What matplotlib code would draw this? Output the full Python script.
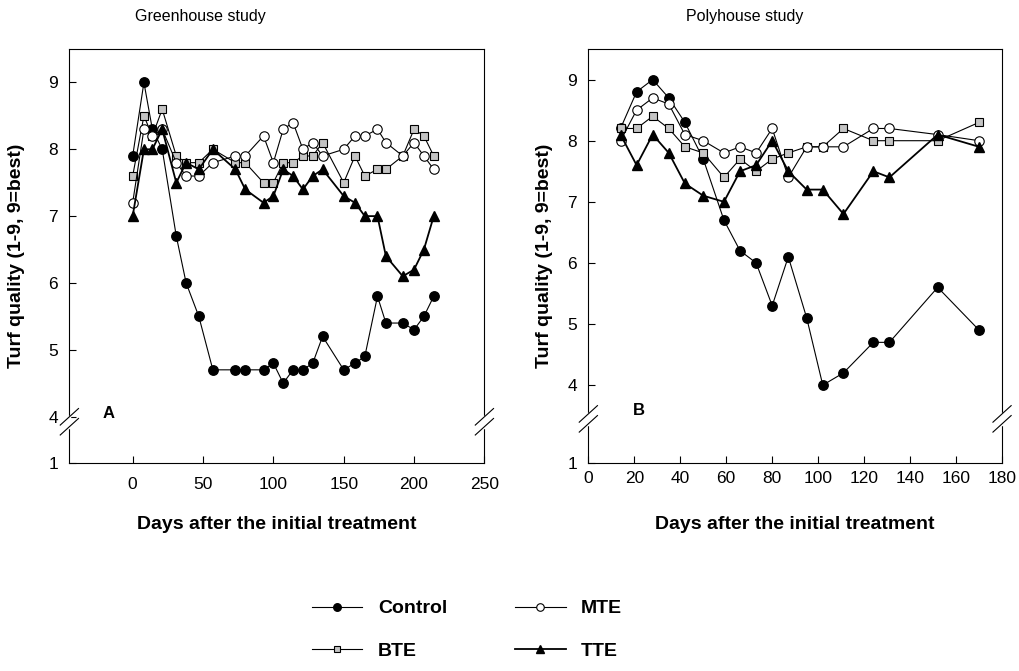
import matplotlib
matplotlib.use('Agg')
import matplotlib.pyplot as plt

plt.rcParams['font.family'] = ['Liberation Sans', 'DejaVu Sans']

# Greenhouse study (panel A)
days_a = [0, 8, 14, 21, 31, 38, 47, 57, 73, 80, 93, 100, 107, 114, 121, 128, 135,
          150, 158, 165, 174, 180, 192, 200, 207, 214]
control_a = [7.9, 9.0, 8.3, 8.0, 6.7, 6.0, 5.5, 4.7, 4.7, 4.7, 4.7, 4.8, 4.5, 4.7, 4.7, 4.8, 5.2,
             4.7, 4.8, 4.9, 5.8, 5.4, 5.4, 5.3, 5.5, 5.8]
mte_a = [7.2, 8.3, 8.2, 8.3, 7.8, 7.6, 7.6, 7.8, 7.9, 7.9, 8.2, 7.8, 8.3, 8.4, 8.0, 8.1, 7.9,
         8.0, 8.2, 8.2, 8.3, 8.1, 7.9, 8.1, 7.9, 7.7]
bte_a = [7.6, 8.5, 8.2, 8.6, 7.9, 7.8, 7.8, 8.0, 7.8, 7.8, 7.5, 7.5, 7.8, 7.8, 7.9, 7.9, 8.1,
         7.5, 7.9, 7.6, 7.7, 7.7, 7.9, 8.3, 8.2, 7.9]
tte_a = [7.0, 8.0, 8.0, 8.3, 7.5, 7.8, 7.7, 8.0, 7.7, 7.4, 7.2, 7.3, 7.7, 7.6, 7.4, 7.6, 7.7,
         7.3, 7.2, 7.0, 7.0, 6.4, 6.1, 6.2, 6.5, 7.0]

# Polyhouse study (panel B)
days_b = [14, 21, 28, 35, 42, 50, 59, 66, 73, 80, 87, 95, 102, 111, 124, 131, 152, 170]
control_b = [8.2, 8.8, 9.0, 8.7, 8.3, 7.7, 6.7, 6.2, 6.0, 5.3, 6.1, 5.1, 4.0, 4.2, 4.7, 4.7, 5.6, 4.9]
mte_b = [8.0, 8.5, 8.7, 8.6, 8.1, 8.0, 7.8, 7.9, 7.8, 8.2, 7.4, 7.9, 7.9, 7.9, 8.2, 8.2, 8.1, 8.0]
bte_b = [8.2, 8.2, 8.4, 8.2, 7.9, 7.8, 7.4, 7.7, 7.5, 7.7, 7.8, 7.9, 7.9, 8.2, 8.0, 8.0, 8.0, 8.3]
tte_b = [8.1, 7.6, 8.1, 7.8, 7.3, 7.1, 7.0, 7.5, 7.6, 8.0, 7.5, 7.2, 7.2, 6.8, 7.5, 7.4, 8.1, 7.9]

y_ticks = [4, 5, 6, 7, 8, 9]


def draw_break(ax, yfrac):
    # little "//" marks on both spines where the axis is broken
    for x0 in (0, 1):
        ax.plot([x0, x0], [yfrac - 0.012, yfrac + 0.012], color='white', lw=2.5,
                transform=ax.transAxes, clip_on=False, zorder=5)
        for dy in (-0.012, 0.012):
            ax.plot([x0 - 0.022, x0 + 0.022], [yfrac + dy - 0.02, yfrac + dy + 0.02],
                    color='black', lw=0.8, transform=ax.transAxes, clip_on=False, zorder=6)


def plot_panel(ax, days, control, mte, bte, tte, ylow, xpad, ylab_x, ybreak):
    ax.plot(days, control, '-o', color='black', lw=0.8, ms=6.8, mfc='black', mec='black', label='Control')
    ax.plot(days, bte, '-s', color='black', lw=0.8, ms=6.2, mfc='#c4c4c4', mec='black', mew=0.8, label='BTE')
    ax.plot(days, mte, '-o', color='black', lw=0.8, ms=6.8, mfc='white', mec='black', mew=0.8, label='MTE')
    ax.plot(days, tte, '-^', color='black', lw=1.3, ms=6.8, mfc='black', mec='black', label='TTE')
    ax.set_ylim(ylow, 9.5)
    ax.set_yticks([ylow] + y_ticks)
    ax.set_yticklabels(['1'] + [str(t) for t in y_ticks])
    ax.tick_params(direction='in', labelsize=12.5, length=5, width=0.8)
    ax.tick_params(axis='y', pad=8)
    ax.tick_params(axis='x', pad=xpad)
    for sp in ax.spines.values():
        sp.set_linewidth(0.8)
    ax.set_ylabel('Turf quality (1-9, 9=best)', fontsize=14, fontweight='bold')
    ax.yaxis.set_label_coords(ylab_x, 0.5)
    ax.set_xlabel('Days after the initial treatment', fontsize=14, fontweight='bold')
    ax.xaxis.set_label_coords(0.5, -0.13)
    draw_break(ax, ybreak)


fig = plt.figure(figsize=(10.2, 6.71), dpi=100)
ax_a = fig.add_axes([0.068, 0.3104, 0.4069, 0.6165])
ax_b = fig.add_axes([0.5768, 0.3104, 0.4056, 0.6165])

plot_panel(ax_a, days_a, control_a, mte_a, bte_a, tte_a, 3.31, 10, -0.107, 0.099)
ax_a.set_xlim(-45, 250)
ax_a.set_xticks([0, 50, 100, 150, 200, 250])
ax_a.text(0.079, 0.12, 'A', transform=ax_a.transAxes, fontsize=12, fontweight='bold', va='center')

plot_panel(ax_b, days_b, control_b, mte_b, bte_b, tte_b, 2.73, 6, -0.085, 0.106)
ax_b.set_xlim(0, 180)
ax_b.set_xticks(range(0, 181, 20))
ax_b.text(0.108, 0.126, 'B', transform=ax_b.transAxes, fontsize=12, fontweight='bold', va='center')

fig.text(200 / 1020, 1 - 17 / 671, 'Greenhouse study', ha='center', va='center', fontsize=11.5)
fig.text(745 / 1020, 1 - 17 / 671, 'Polyhouse study', ha='center', va='center', fontsize=11.5)

handles, labels = ax_a.get_legend_handles_labels()
fig.legend(handles, labels, loc='center', bbox_to_anchor=(467 / 1020, 1 - 630 / 671), ncol=2,
           frameon=False, handlelength=2.6, handletextpad=0.8, columnspacing=3.5,
           labelspacing=1.3, markerscale=0.8, prop={'size': 14, 'weight': 'bold'})

plt.savefig('out.png', dpi=100)
